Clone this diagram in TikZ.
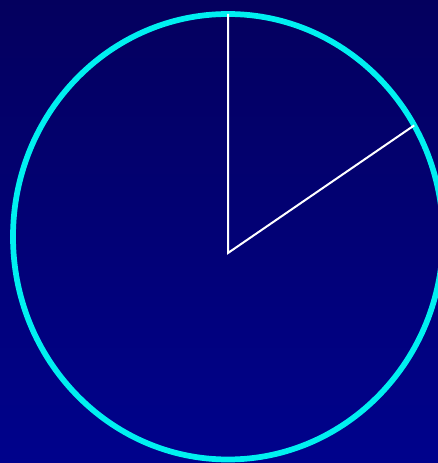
\documentclass[tikz,border=0pt]{standalone}
\usepackage{tikz}
\usetikzlibrary{calc}

\definecolor{skytop}{RGB}{4,0,94}
\definecolor{skybot}{RGB}{0,2,140}
\definecolor{rimcyan}{RGB}{0,240,240}

\begin{document}
\begin{tikzpicture}[
  x=0.75pt, y=-0.75pt,
  rim/.style={draw=rimcyan, line width=4.3pt},
  spoke/.style={draw=white, line width=1.5pt},
]

%% --- Background ---
\useasboundingbox (0,0) rectangle (438,463);
\shade[top color=skytop, bottom color=skybot] (0,0) rectangle (438,463);

%% --- Points ---
\coordinate (O)    at (228,236.75);
\coordinate (hub)  at (228,253);
\coordinate (top)  at (228,14);
\coordinate (edge) at ($(O)+(30:215 and -222.75)$);

\begin{scope}
  \clip (0,0) rectangle (438,463);
  %% --- Outline ---
  \draw[rim] (O) ellipse [x radius=215, y radius=222.75];
  %% --- Spokes ---
  \draw[spoke] (top) -- (hub) -- (edge);
\end{scope}

\end{tikzpicture}
\end{document}
